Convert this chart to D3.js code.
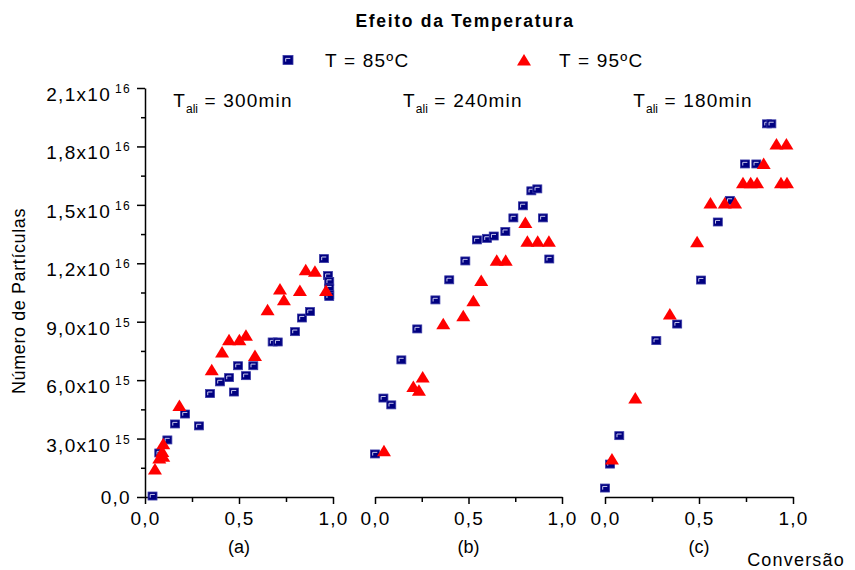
<!DOCTYPE html>
<html>
<head>
<meta charset="utf-8">
<script src="https://cdn.jsdelivr.net/npm/d3@7"></script>
<style>
  body { margin: 0; background: #fff; }
  text { font-family: "Liberation Sans", Arial, sans-serif; fill: #000; }
</style>
</head>
<body>
<svg id="chart" width="855" height="570"></svg>
<script>
// ---- Data (particle counts in units of 1e15) ----
const panelLabels = ["(a)", "(b)", "(c)"];
const feedTimes = ["300min", "240min", "180min"];
const seriesNames = ["T = 85ºC", "T = 95ºC"];

// Panel (a): T_ali = 300 min
const convA85 = [0.04, 0.076, 0.119, 0.16, 0.213, 0.287, 0.346, 0.399, 0.447, 0.473, 0.495, 0.537, 0.576, 0.679, 0.706, 0.798, 0.835, 0.878, 0.952, 0.973, 0.98, 0.98, 0.98, 0.98];
const partA85 = [0.05, 2.26, 2.93, 3.75, 4.26, 3.65, 5.31, 5.91, 6.13, 5.39, 6.74, 6.23, 6.74, 7.96, 7.96, 8.49, 9.19, 9.52, 12.24, 11.37, 11.07, 10.73, 10.39, 10.30];
const convA95 = [0.053, 0.076, 0.097, 0.092, 0.097, 0.183, 0.355, 0.41, 0.447, 0.502, 0.537, 0.585, 0.652, 0.718, 0.739, 0.824, 0.855, 0.904, 0.963];
const partA95 = [1.44, 2.0, 2.09, 2.34, 2.74, 4.70, 6.54, 7.45, 8.08, 8.08, 8.30, 7.26, 9.62, 10.68, 10.13, 10.6, 11.67, 11.59, 10.6];

// Panel (b): T_ali = 240 min
const convB85 = [0.0, 0.045, 0.087, 0.141, 0.226, 0.323, 0.397, 0.483, 0.545, 0.599, 0.635, 0.697, 0.74, 0.791, 0.836, 0.868, 0.898, 0.932];
const partB85 = [2.21, 5.08, 4.73, 7.04, 8.63, 10.12, 11.15, 12.12, 13.2, 13.28, 13.4, 13.63, 14.33, 14.95, 15.72, 15.82, 14.33, 12.22];
const convB95 = [0.048, 0.205, 0.235, 0.255, 0.365, 0.472, 0.526, 0.568, 0.651, 0.699, 0.804, 0.815, 0.87, 0.93];
const partB95 = [2.38, 5.68, 5.48, 6.16, 8.9, 9.31, 10.08, 11.11, 12.15, 12.15, 14.1, 13.13, 13.13, 13.13];

// Panel (c): T_ali = 180 min
const convC85 = [0.0, 0.027, 0.076, 0.273, 0.384, 0.511, 0.60, 0.664, 0.745, 0.805, 0.862, 0.885];
const partC85 = [0.46, 1.69, 3.15, 8.03, 8.88, 11.14, 14.12, 15.23, 17.1, 17.1, 19.16, 19.16];
const convC95 = [0.037, 0.161, 0.345, 0.49, 0.561, 0.637, 0.692, 0.734, 0.775, 0.809, 0.844, 0.912, 0.965, 0.936, 0.968];
const partC95 = [1.95, 5.08, 9.4, 13.1, 15.1, 15.1, 15.1, 16.13, 16.13, 16.13, 17.12, 18.13, 18.13, 16.13, 16.13];

// Axis ticks
const yTicks = [0, 3, 6, 9, 12, 15, 18, 21];
const yMinorTicks = [1.5, 4.5, 7.5, 10.5, 13.5, 16.5, 19.5];
const xTicks = [0, 0.5, 1.0];
const xMinorTicks = [0.25, 0.75];

const series85 = [[convA85, partA85], [convB85, partB85], [convC85, partC85]];
const series95 = [[convA95, partA95], [convB95, partB95], [convC95, partC95]];

// ---- Layout ----
const svg = d3.select("#chart");
const baseY = 497;
const y = d3.scaleLinear().domain([0, 21]).range([baseY, 88]);
const panelRanges = [[145, 333], [375, 562], [605, 793]];
const NAVY = "#000080", RED = "#ff0000";
const fontMain = 19;

const decComma = v => v.toFixed(1).replace(".", ",");

function drawSquare(g, cx, cy, s) {
  g.append("rect")
    .attr("x", cx - s / 2).attr("y", cy - s / 2 + 0.5)
    .attr("width", s).attr("height", s - 1)
    .attr("fill", NAVY).attr("stroke", "#3a3aa6").attr("stroke-width", 0.8);
  g.append("path")
    .attr("d", `M${cx - 2.3},${cy + 1.6}V${cy - 1.6}H${cx + 2.3}`)
    .attr("fill", "none").attr("stroke", "#c8c8ee").attr("stroke-width", 1);
}
function drawTriangle(g, cx, cy) {
  g.append("path")
    .attr("d", `M${cx},${cy - 6}L${cx + 7},${cy + 5.5}L${cx - 7},${cy + 5.5}Z`)
    .attr("fill", RED);
}

// ---- Title ----
svg.append("text")
  .attr("x", 465).attr("y", 27)
  .attr("text-anchor", "middle")
  .attr("font-size", 17.5).attr("font-weight", "bold")
  .attr("letter-spacing", 1.7)
  .text("Efeito da Temperatura");

// ---- Legend ----
const legend = svg.append("g");
drawSquare(legend, 288, 60, 10);
legend.append("text").attr("x", 325).attr("y", 67)
  .attr("font-size", fontMain).attr("letter-spacing", 1.2).text(seriesNames[0]);
drawTriangle(legend, 524, 60);
legend.append("text").attr("x", 559).attr("y", 67)
  .attr("font-size", fontMain).attr("letter-spacing", 1.2).text(seriesNames[1]);

// ---- Y axis ----
const gy = svg.append("g").attr("transform", "translate(145,0)");
gy.call(d3.axisLeft(y).tickValues(yTicks).tickSize(8).tickSizeOuter(0).tickFormat(""));
gy.call(g => g.append("g").call(d3.axisLeft(y).tickValues(yMinorTicks).tickSize(4).tickFormat(""))
  .call(m => m.select(".domain").remove()));
gy.selectAll("path, line").attr("stroke", "#000").attr("stroke-width", 1.5);

yTicks.forEach(d => {
  const t = gy.append("text")
    .attr("x", -14)
    .attr("text-anchor", "end")
    .attr("font-size", fontMain)
    .attr("letter-spacing", 1.3);
  if (d === 0) {
    t.attr("y", y(d) + 7).text("0,0");
  } else {
    const v = d * 1e15;
    const e = Math.floor(Math.log10(v));
    const m = v / Math.pow(10, e);
    t.attr("y", y(d) + 13);
    t.append("tspan").text(decComma(m) + "x10");
    t.append("tspan").attr("font-size", 12).attr("dx", 4).attr("dy", -8).text(e);
  }
});

// Y title
svg.append("text")
  .attr("transform", "translate(25,301) rotate(-90)")
  .attr("text-anchor", "middle")
  .attr("font-size", 18)
  .attr("letter-spacing", 0.6)
  .text("Número de Partículas");

// ---- Panels ----
panelRanges.forEach((range, i) => {
  const x = d3.scaleLinear().domain([0, 1]).range(range);

  const gx = svg.append("g").attr("transform", `translate(0,${baseY})`);
  gx.call(d3.axisBottom(x).tickValues(xTicks).tickSize(7).tickPadding(8).tickSizeOuter(0).tickFormat(decComma));
  gx.append("g").call(d3.axisBottom(x).tickValues(xMinorTicks).tickSize(5).tickFormat(""))
    .call(m => m.select(".domain").remove());
  gx.selectAll("path, line").attr("stroke", "#000").attr("stroke-width", 1.5);
  gx.selectAll("text")
    .attr("font-size", fontMain)
    .attr("letter-spacing", 1.2)
    .attr("font-family", "Liberation Sans, Arial, sans-serif")
    .attr("fill", "#000");

  // Panel letter
  svg.append("text")
    .attr("x", x(0.5)).attr("y", 553)
    .attr("text-anchor", "middle")
    .attr("font-size", 18)
    .text(panelLabels[i]);

  // Feed-time label
  const tl = svg.append("text")
    .attr("x", x(0.15)).attr("y", 107)
    .attr("font-size", fontMain)
    .attr("letter-spacing", 1.2);
  tl.append("tspan").text("T");
  tl.append("tspan").attr("font-size", 12).attr("dy", 6).attr("letter-spacing", 0).text("ali");
  tl.append("tspan").attr("dy", -6).text(" = " + feedTimes[i]);

  // Markers
  const g = svg.append("g");
  const [cx85, cy85] = series85[i];
  cx85.forEach((c, k) => drawSquare(g, x(c), y(cy85[k]), 9));
  const [cx95, cy95] = series95[i];
  cx95.forEach((c, k) => drawTriangle(g, x(c), y(cy95[k])));
});

// X title
svg.append("text")
  .attr("x", 845).attr("y", 566)
  .attr("text-anchor", "end")
  .attr("font-size", 18)
  .attr("letter-spacing", 1.2)
  .text("Conversão");
</script>
</body>
</html>
